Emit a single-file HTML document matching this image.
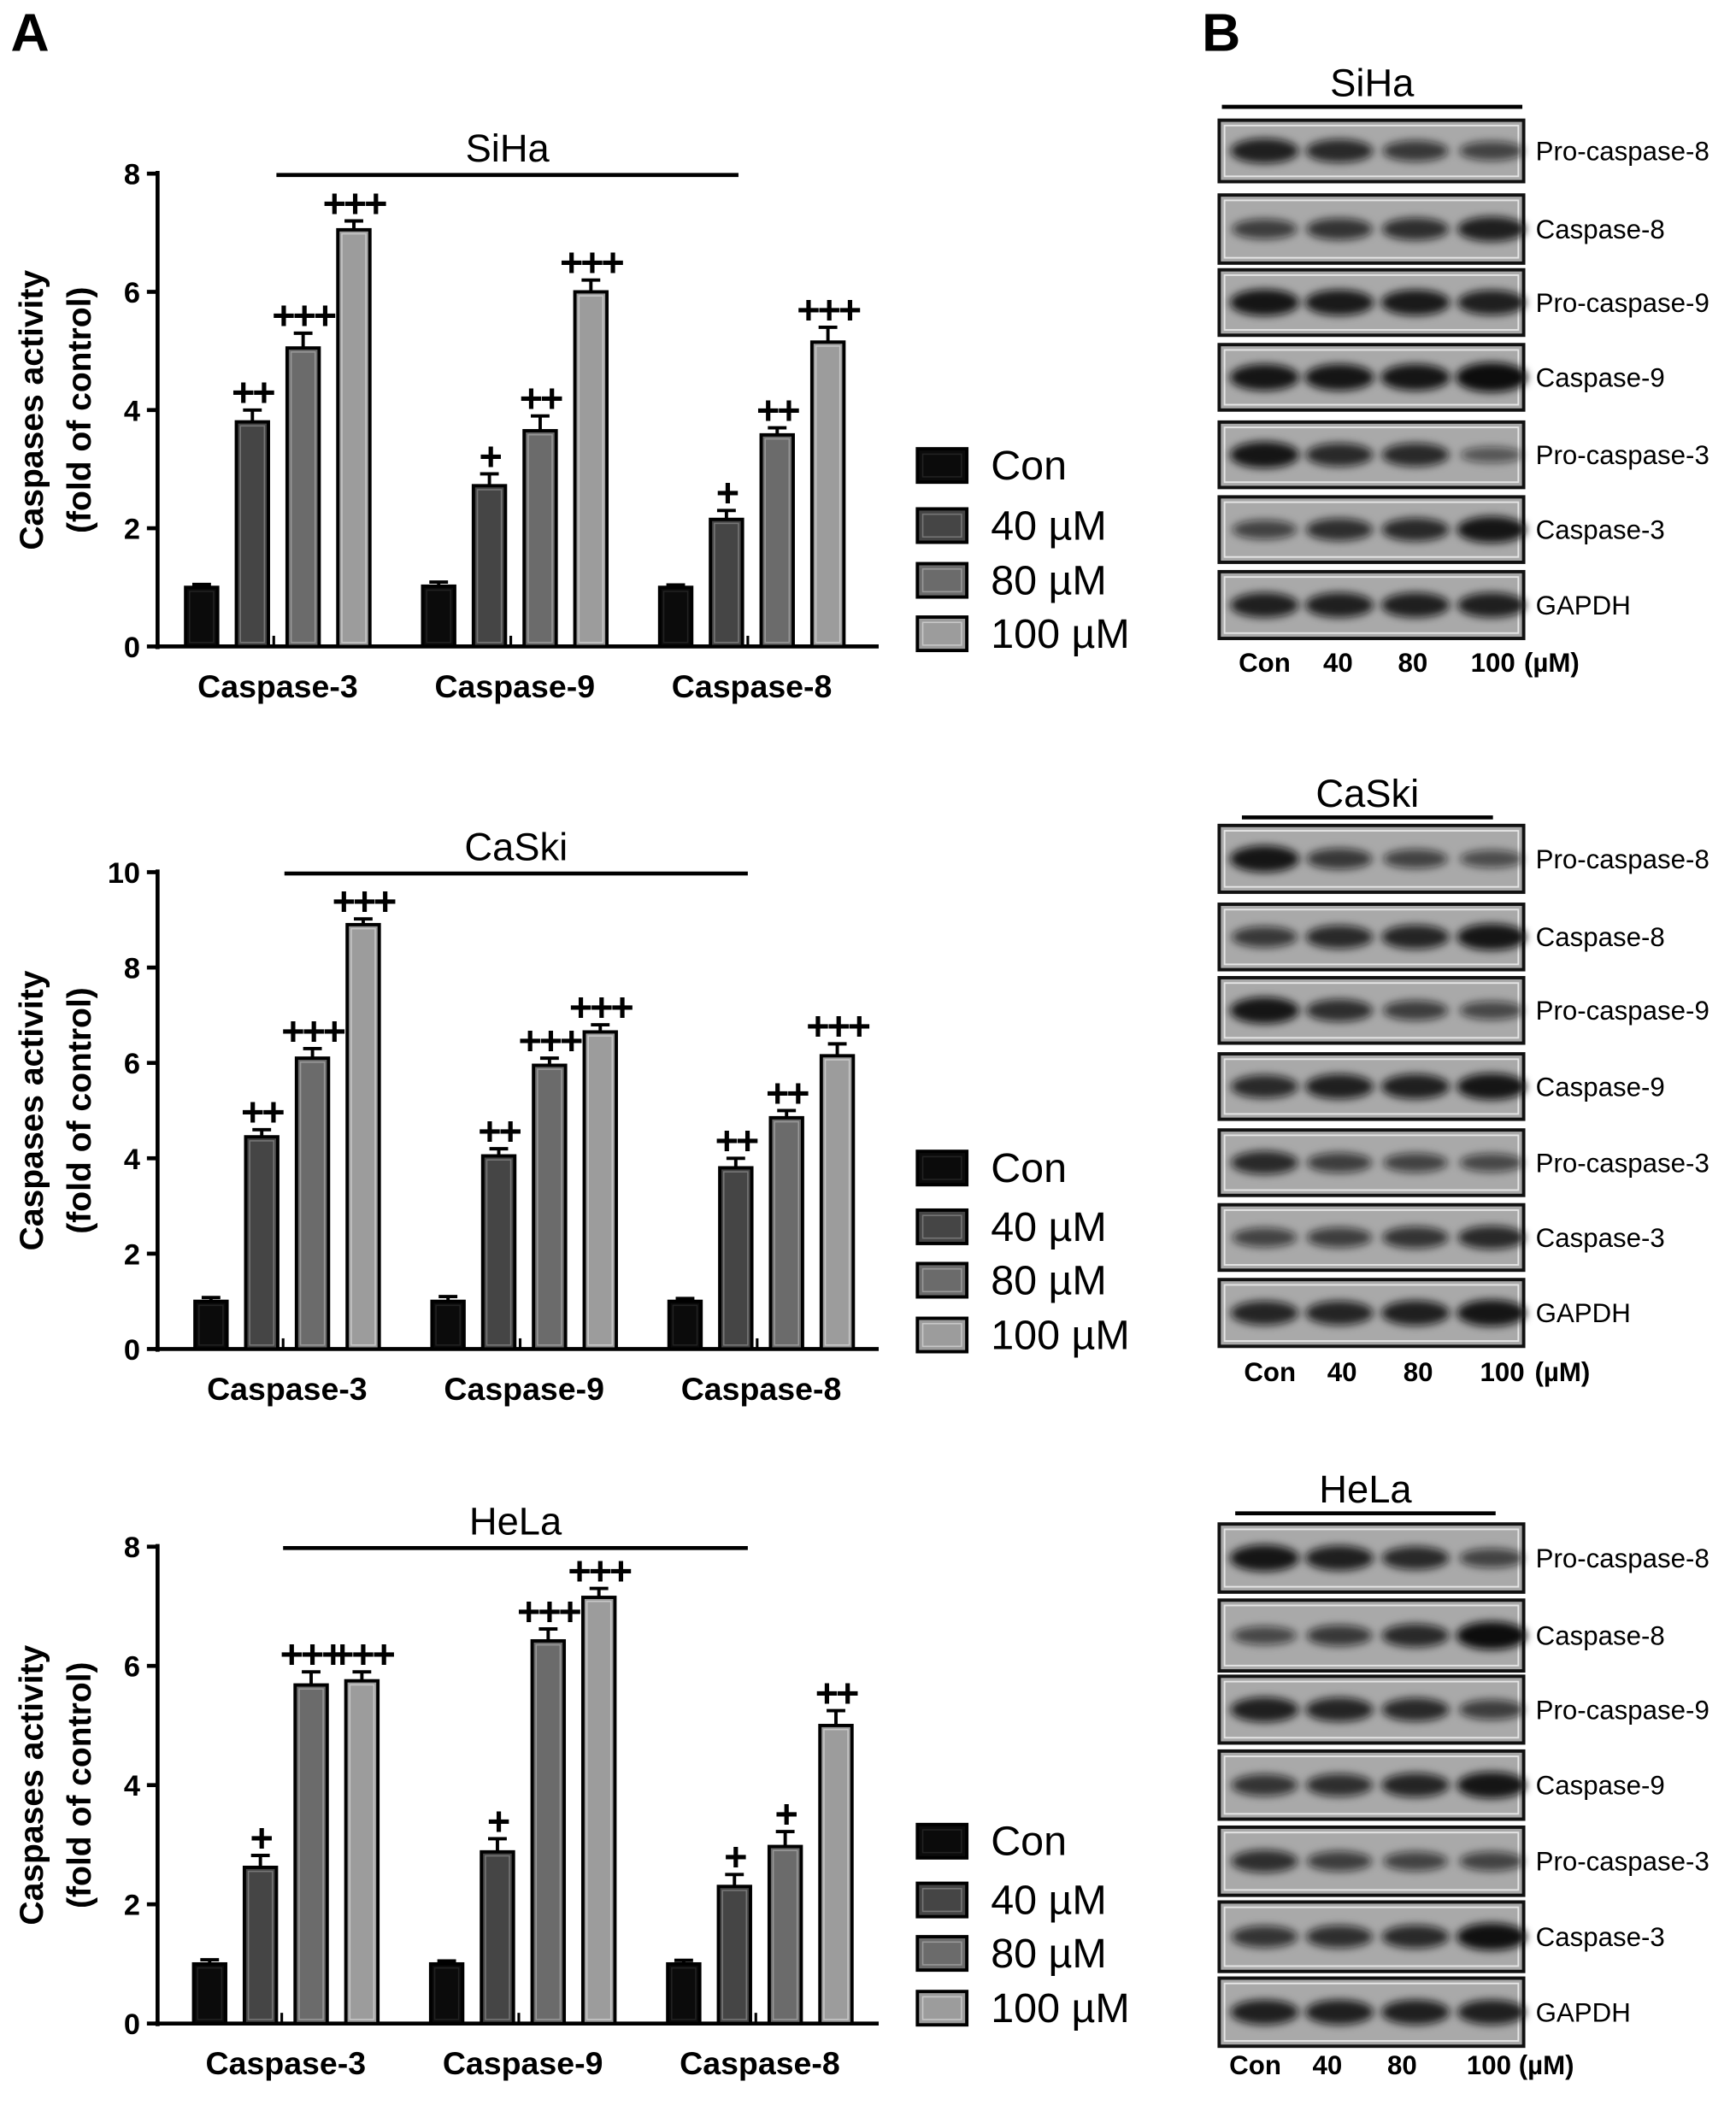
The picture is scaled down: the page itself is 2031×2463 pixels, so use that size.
<!DOCTYPE html>
<html><head><meta charset="utf-8"><style>
html,body{margin:0;padding:0;background:#fff}
svg{display:block}
text{font-family:"Liberation Sans",Arial,sans-serif}
</style></head><body>
<svg id="fig" width="2031" height="2463" viewBox="0 0 1300 1576" preserveAspectRatio="none" xmlns="http://www.w3.org/2000/svg">
<defs><filter id="blur" x="-60%" y="-120%" width="220%" height="340%"><feGaussianBlur stdDeviation="3"/></filter></defs>
<text x="8" y="38" font-size="40" font-weight="bold">A</text>
<text x="900" y="38" font-size="40" font-weight="bold">B</text>
</svg>
<script>
const categories = ["Caspase-3","Caspase-9","Caspase-8"];
const seriesNames = ["Con","40 µM","80 µM","100 µM"];
const sihaValues = [[1.0,3.8,5.05,7.05],[1.02,2.72,3.65,6.0],[1.0,2.15,3.58,5.15]];
const sihaErrors = [[0.05,0.2,0.25,0.15],[0.07,0.2,0.25,0.2],[0.04,0.15,0.12,0.25]];
const sihaMarks = [["","++","+++","+++"],["","+","++","+++"],["","+","++","+++"]];
const caskiValues = [[1.0,4.45,6.1,8.9],[1.0,4.05,5.95,6.65],[1.0,3.8,4.85,6.15]];
const caskiErrors = [[0.08,0.15,0.2,0.12],[0.1,0.15,0.15,0.15],[0.06,0.2,0.15,0.25]];
const caskiMarks = [["","++","+++","+++"],["","++","+++","+++"],["","++","++","+++"]];
const helaValues = [[1.0,2.62,5.68,5.75],[1.0,2.88,6.42,7.15],[1.0,2.3,2.97,5.0]];
const helaErrors = [[0.07,0.2,0.22,0.15],[0.05,0.22,0.2,0.15],[0.06,0.2,0.25,0.25]];
const helaMarks = [["","+","+++","+++"],["","+","+++","+++"],["","+","+","++"]];
const sihaTicks = [0,2,4,6,8];
const caskiTicks = [0,2,4,6,8,10];
const helaTicks = [0,2,4,6,8];

const svg = document.getElementById('fig');
const NS = "http://www.w3.org/2000/svg";
function mk(tag, attrs, parent){const e=document.createElementNS(NS,tag);for(const k in attrs)e.setAttribute(k,attrs[k]);(parent||svg).appendChild(e);return e;}
const fills = ["#0b0b0b","#454545","#6b6b6b","#9c9c9c"];
const inner = ["#222","#777","#999","#c8c8c8"];

function chart(cfg){
  const g = mk('g',{});
  
  
  const x0=118, xEnd=658, y0=cfg.y0, yTop=cfg.yTop, ymax=cfg.ticks[cfg.ticks.length-1];
  const Y = v => y0 - (v/ymax)*(y0-yTop);
  const groupStart = cfg.groupStart, groupGap = 177.5, barGap = 38, bw = 24;
  const X = (gi,si) => groupStart + gi*groupGap + si*barGap;
  const ya = mk('line',{x1:x0,y1:yTop-2,x2:x0,y2:y0+2,stroke:'#000','stroke-width':3},g);
   
  const xa = mk('line',{x1:x0-2,y1:y0,x2:xEnd,y2:y0,stroke:'#000','stroke-width':3},g);
   
  cfg.ticks.forEach(t=>{
    mk('line',{x1:x0-8,y1:Y(t),x2:x0,y2:Y(t),stroke:'#000','stroke-width':3},g);
    const tl = mk('text',{x:x0-13,y:Y(t)+8,'font-size':22,'font-weight':'bold','text-anchor':'end'},g);
    tl.textContent=t;
     
  });
  const yt = mk('text',{transform:`translate(32,${(y0+yTop)/2}) rotate(-90)`,'font-size':25,'font-weight':'bold','text-anchor':'middle'},g);
  yt.textContent='Caspases activity';
   
  const yt2 = mk('text',{transform:`translate(68,${(y0+yTop)/2}) rotate(-90)`,'font-size':25,'font-weight':'bold','text-anchor':'middle'},g);
  yt2.textContent='(fold of control)';
   
  const bl = mk('line',{x1:cfg.brX1,y1:yTop+1,x2:cfg.brX2,y2:yTop+1,stroke:'#000','stroke-width':3},g);
   
  const bt = mk('text',{x:(cfg.brX1+cfg.brX2)/2,y:yTop-9,'font-size':29,'text-anchor':'middle'},g);
  bt.textContent=cfg.title;
   
  categories.forEach((c,gi)=>{
    const cx = (X(gi,0)+X(gi,3))/2;
    const cl = mk('text',{x:cx,y:y0+38,'font-size':24,'font-weight':'bold','text-anchor':'middle'},g);
    cl.textContent=c;
     
    mk('line',{x1:cx-3,y1:y0-8,x2:cx-3,y2:y0,stroke:'#000','stroke-width':2},g);
    cfg.values[gi].forEach((v,si)=>{
      const x = X(gi,si)-bw/2, top=Y(v), err=cfg.errors[gi][si];
      const r = mk('rect',{x:x,y:top,width:bw,height:y0-top,fill:fills[si],stroke:'#000','stroke-width':2.5},g);
      
      
      mk('rect',{x:x+3,y:top+3,width:bw-6,height:Math.max(0,y0-top-6),fill:'none',stroke:inner[si],'stroke-width':1},g);
      const et = Y(v+err);
      const eb = mk('path',{d:`M${X(gi,si)} ${top} V${et} M${X(gi,si)-7} ${et} H${X(gi,si)+7}`,stroke:'#000','stroke-width':2.5,fill:'none'},g);
       
      const m = cfg.marks[gi][si];
      if(m){
        const mt = mk('text',{x:X(gi,si),y:et-3,'font-size':30,'font-weight':'bold','text-anchor':'middle','letter-spacing':'-2'},g);
        mt.textContent=m;
         
      }
    });
  });
  cfg.legendY.forEach((ly,si)=>{
    const lr = mk('rect',{x:687,y:ly-12,width:37,height:25,fill:fills[si],stroke:'#000','stroke-width':2.5},g);
     
    mk('rect',{x:691,y:ly-8,width:29,height:17,fill:'none',stroke:inner[si],'stroke-width':1},g);
    const lt = mk('text',{x:742,y:ly+11,'font-size':31},g);
    lt.textContent=seriesNames[si];
     
  });
}
chart({name:'siha',title:'SiHa',y0:484,yTop:130,ticks:sihaTicks,values:sihaValues,errors:sihaErrors,marks:sihaMarks,groupStart:151,brX1:207,brX2:553,legendY:[348,393,434,474]});
chart({name:'caski',title:'CaSki',y0:1010,yTop:653,ticks:caskiTicks,values:caskiValues,errors:caskiErrors,marks:caskiMarks,groupStart:158,brX1:213,brX2:560,legendY:[874,918,958,999]});
chart({name:'hela',title:'HeLa',y0:1515,yTop:1158,ticks:helaTicks,values:helaValues,errors:helaErrors,marks:helaMarks,groupStart:157,brX1:212,brX2:560,legendY:[1378,1422,1462,1503]});

const blotRows = ["Pro-caspase-8","Caspase-8","Pro-caspase-9","Caspase-9","Pro-caspase-3","Caspase-3","GAPDH"];
const sihaBands = [[0.9,0.8,0.65,0.55],[0.6,0.7,0.75,0.9],[1,0.95,0.95,0.9],[1,1,1,1.2],[1,0.8,0.8,0.35],[0.55,0.75,0.8,1],[0.9,0.9,0.9,0.9]];
const caskiBands = [[1,0.65,0.55,0.45],[0.65,0.8,0.85,1],[1,0.75,0.6,0.5],[0.8,0.9,0.9,1],[0.8,0.6,0.55,0.5],[0.55,0.6,0.7,0.8],[0.85,0.85,0.9,1]];
const helaBands = [[1,0.9,0.8,0.55],[0.5,0.65,0.8,1.1],[0.9,0.85,0.8,0.6],[0.7,0.75,0.85,1],[0.75,0.6,0.55,0.55],[0.7,0.75,0.8,1.05],[0.9,0.9,0.9,0.9]];
const laneLabels = ["Con","40","80","100","(µM)"];

function blot(cfg){
  const g = mk('g',{});
  
  
  const bl = mk('line',{x1:cfg.brX1,y1:cfg.brY,x2:cfg.brX2,y2:cfg.brY,stroke:'#000','stroke-width':3},g);
   
  const bt = mk('text',{x:(cfg.brX1+cfg.brX2)/2,y:cfg.brY-8,'font-size':29,'text-anchor':'middle'},g);
  bt.textContent=cfg.title;
   
  const lanes=[947,1003,1060,1117];
  cfg.rows.forEach((ry,ri)=>{
    const [t,b]=ry;
    const box = mk('rect',{x:913,y:t,width:228,height:b-t,fill:'#a9a9a9',stroke:'#111','stroke-width':2.5},g);
     
    mk('rect',{x:917,y:t+4,width:220,height:b-t-8,fill:'none',stroke:'#e6e6e6','stroke-width':1.2},g);
    const cy=(t+b)/2;
    cfg.bands[ri].forEach((v,li)=>{
      const e = mk('ellipse',{cx:lanes[li],cy:cy,rx:22+4*v,ry:4+6*v,fill:'#111','fill-opacity':Math.min(1,0.35+0.6*v),filter:'url(#blur)'},g);
      
      
    });
    const lt = mk('text',{x:1150,y:cy+7,'font-size':20},g);
    lt.textContent=blotRows[ri];
     
  });
  cfg.laneX.forEach((lx,i)=>{
    const tl = mk('text',{x:lx,y:cfg.laneY,'font-size':20,'font-weight':'bold','text-anchor':'middle'},g);
    tl.textContent=laneLabels[i];
     
  });
}
blot({name:'siha',title:'SiHa',brX1:915,brX2:1140,brY:80,bands:sihaBands,
  rows:[[90,136],[146,197],[202,251],[258,307],[316,365],[372,421],[428,478]],laneY:503,laneX:[947,1002,1058,1118,1162]});
blot({name:'caski',title:'CaSki',brX1:930,brX2:1118,brY:612,bands:caskiBands,
  rows:[[618,668],[677,726],[732,781],[789,838],[846,895],[902,951],[958,1008]],laneY:1034,laneX:[951,1005,1062,1125,1170]});
blot({name:'hela',title:'HeLa',brX1:925,brX2:1120,brY:1133,bands:helaBands,
  rows:[[1141,1192],[1198,1251],[1255,1305],[1311,1362],[1368,1419],[1424,1476],[1481,1532]],laneY:1553,laneX:[940,994,1050,1115,1158]});
</script>
</body></html>
